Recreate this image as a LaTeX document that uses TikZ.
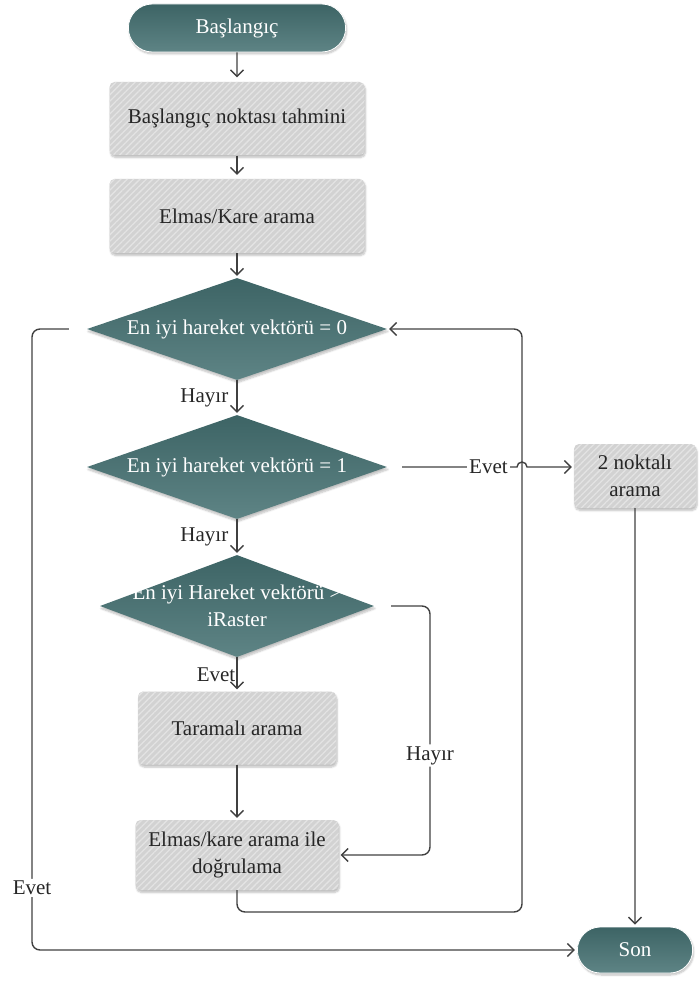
\documentclass[tikz,border=0pt]{standalone}
\usepackage{fontspec}
\setmainfont{Liberation Serif}
\usetikzlibrary{shapes.geometric,shapes.misc,arrows.meta,shadows,shadows.blur,patterns.meta}

\definecolor{tealdark}{HTML}{3D6465}
\definecolor{teallight}{HTML}{5E8485}
\definecolor{boxgray}{HTML}{D2D2D2}
\definecolor{stripe}{HTML}{E3E3E3}
\definecolor{linec}{HTML}{404040}

\tikzset{
  txt/.style={font=\fontsize{21}{27}\selectfont},
  lbl/.style={txt, text=black!85, inner sep=2pt},
  term/.style={rounded rectangle, txt, text=white, top color=tealdark, bottom color=teallight,
    draw=white, line width=0.8pt, blur shadow={shadow blur steps=6, shadow opacity=25, shadow xshift=1pt, shadow yshift=-2pt},
    minimum height=48pt},
  proc/.style={rectangle, rounded corners=5pt, txt, text=black!85, align=center,
    blur shadow={shadow blur steps=6, shadow opacity=25, shadow xshift=1pt, shadow yshift=-2.5pt},
    preaction={fill=boxgray},
    pattern={Lines[angle=45,distance=4.5pt,line width=1.3pt]}, pattern color=stripe},
  decision/.style={diamond, inner sep=0pt, top color=tealdark, bottom color=teallight,
    blur shadow={shadow blur steps=6, shadow opacity=25, shadow xshift=1pt, shadow yshift=-2.5pt}},
  dtext/.style={txt, text=white, align=center},
  line/.style={draw=linec, line width=1.4pt},
  arr/.style={line, -{Straight Barb[length=6.5pt,width=13pt]}, shorten >=2pt},
}

\begin{document}
\begin{tikzpicture}[x=1pt,y=-1pt]
\useasboundingbox (0,0) rectangle (698,981);

% Terminal nodes
\node[term, minimum width=224pt] (start) at (237,28) {Başlangıç};
\node[term, minimum width=122pt, minimum height=46pt] (son) at (635,950) {Son};

% Process nodes
\node[proc, minimum width=255pt, minimum height=73pt] (tahmin) at (237,118.5) {Başlangıç noktası tahmini};
\node[proc, minimum width=255pt, minimum height=74pt] (elmas) at (237,216) {Elmas/Kare arama};
\node[proc, minimum width=198pt, minimum height=73pt] (tarama) at (237,728) {Taramalı arama};
\node[proc, minimum width=203pt, minimum height=70pt] (dogrula) at (237,855) {Elmas/kare arama ile\\doğrulama};
\node[proc, minimum width=122pt, minimum height=64pt] (iki) at (635,476) {2 noktalı\\arama};

% Decision nodes
\node[decision, minimum width=300pt, minimum height=102pt,
  label={[dtext]center:En iyi hareket vektörü = 0}] (sifir) at (237,329) {};
\node[decision, minimum width=300pt, minimum height=104pt,
  label={[dtext]center:En iyi hareket vektörü = 1}] (bir) at (237,467) {};
\node[decision, minimum width=274pt, minimum height=102pt,
  label={[dtext]center:En iyi Hareket vektörü >\\iRaster}] (raster) at (237,606) {};

% Corner points
\coordinate (sag) at (522,912);
\coordinate (sol) at (32,950);
\coordinate (orta) at (430,855);

% Main column
\draw[arr, shorten >=4pt] (start) -- (tahmin);
\draw[arr, shorten >=4pt] (tahmin) -- (elmas);
\draw[arr] (elmas) -- (sifir);
\draw[arr] (sifir) -- node[lbl, left, xshift=-6pt] {Hayır} (bir);
\draw[arr] (bir) -- node[lbl, left, xshift=-6pt] {Hayır} (raster);
\draw[arr] (raster) -- node[lbl, left, inner sep=1pt] {Evet} (tarama);
\draw[arr] (tarama) -- (dogrula);

% Loop back to first decision
\draw[arr, rounded corners=8pt] (dogrula.south) -- (dogrula.south |- sag) -- (sag) -- (sag |- sifir.east) -- (sifir.east);

% Evet branches
\draw[arr, shorten <=15pt] (bir.east) -- node[lbl, fill=white, pos=.78] {Evet}
  ([xshift=-5pt]bir.east -| sag) arc[start angle=180, end angle=0, radius=5pt] -- (bir.east -| iki.west);
\draw[arr] (iki) -- (son);
\draw[arr, shorten <=18pt, rounded corners=8pt] (sifir.west) -- (sifir.west -| sol)
  -- node[lbl, fill=white, pos=.9] {Evet} (sol) -- (son.west);

% Hayir branch
\draw[arr, shorten <=17pt, rounded corners=8pt] (raster.east) -- (raster.east -| orta)
  -- node[lbl, fill=white, pos=.6] {Hayır} (orta) -- (dogrula.east);

\end{tikzpicture}
\end{document}
